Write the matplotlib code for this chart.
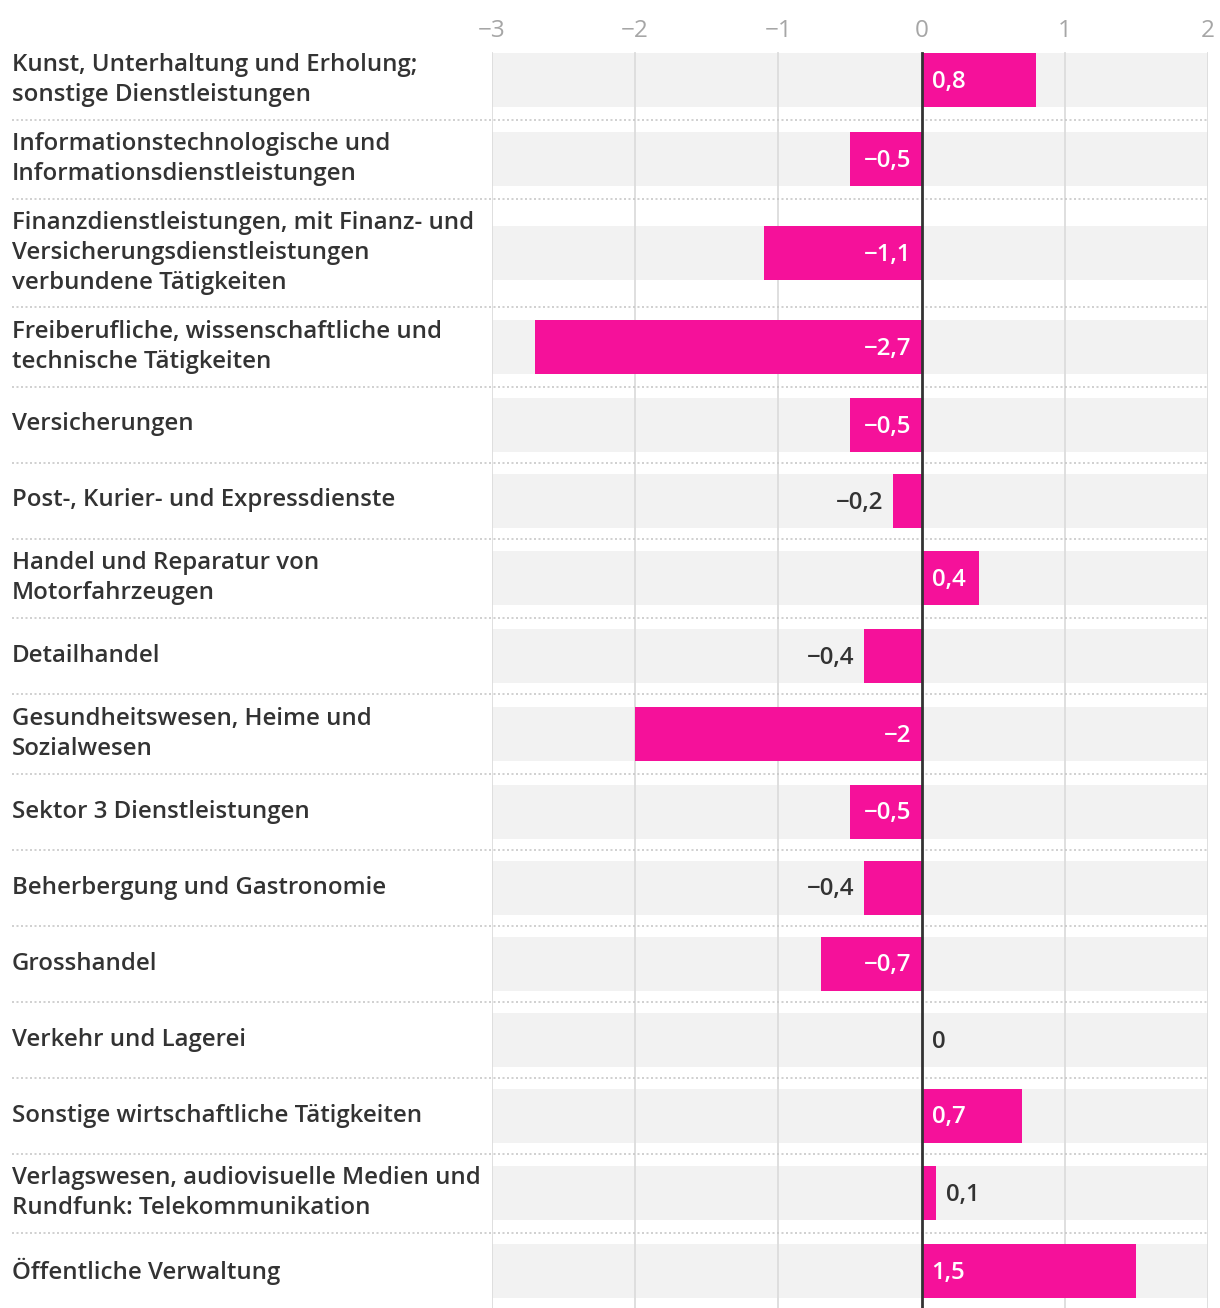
import matplotlib.pyplot as plt
import matplotlib.transforms as mtransforms

plt.rcParams['font.family'] = ['Open Sans', 'DejaVu Sans']
plt.rcParams['font.weight'] = 600

# categories top to bottom, labels already broken into lines like the original
labels = [
    "Kunst, Unterhaltung und Erholung;\nsonstige Dienstleistungen",
    "Informationstechnologische und\nInformationsdienstleistungen",
    "Finanzdienstleistungen, mit Finanz- und\nVersicherungsdienstleistungen\nverbundene Tätigkeiten",
    "Freiberufliche, wissenschaftliche und\ntechnische Tätigkeiten",
    "Versicherungen",
    "Post-, Kurier- und Expressdienste",
    "Handel und Reparatur von\nMotorfahrzeugen",
    "Detailhandel",
    "Gesundheitswesen, Heime und\nSozialwesen",
    "Sektor 3 Dienstleistungen",
    "Beherbergung und Gastronomie",
    "Grosshandel",
    "Verkehr und Lagerei",
    "Sonstige wirtschaftliche Tätigkeiten",
    "Verlagswesen, audiovisuelle Medien und\nRundfunk: Telekommunikation",
    "Öffentliche Verwaltung",
]
values = [0.8, -0.5, -1.1, -2.7, -0.5, -0.2, 0.4, -0.4, -2.0, -0.5, -0.4, -0.7, 0.0, 0.7, 0.1, 1.5]
ticks = [-3, -2, -1, 0, 1, 2]

PINK = "#f5119a"
TXT = "#333333"
FS = 17.3
W, H = 1220, 1308


def fmt(v):
    s = ("%.1f" % v).rstrip("0").rstrip(".") if v != 0 else "0"
    return s.replace("-", "\u2212").replace(".", ",")


# row heights in pixels depending on number of label lines
row_h = {1: 76, 2: 79.5, 3: 108}
heights = [row_h[l.count("\n") + 1] for l in labels]
edges = [0]
for h in heights:
    edges.append(edges[-1] + h)
centers = [(edges[i] + edges[i + 1]) / 2 for i in range(len(labels))]
total = edges[-1]

top_px = 40
fig = plt.figure(figsize=(W / 100, H / 100), dpi=100)
ax = fig.add_axes([492 / W, (H - top_px - total) / H, (1208 - 492) / W, total / H])
ax.set_xlim(-3, 2)
ax.set_ylim(total, 0)
for s in ax.spines.values():
    s.set_visible(False)
ax.set_yticks([])
ax.xaxis.tick_top()
ax.set_xticks(ticks)
ax.set_xticklabels([fmt(t) for t in ticks], color="#a6a6a6", fontsize=17.5, fontweight="normal")
ax.tick_params(axis="x", length=0, pad=-2)

bar_h = 54
# background rows
ax.barh(centers, [5] * len(labels), left=-3, height=bar_h, color="#f2f2f2", zorder=0)
# grid
for t in ticks:
    if t != 0:
        ax.plot([t, t], [centers[0] - bar_h / 2, total], color="#dcdcdc", lw=1.3, zorder=1)
# separators
for e in edges[1:-1]:
    ax.axhline(e, xmin=(12 - 492) / 716, xmax=1.0, color="#c8c8c8", lw=1.2,
               linestyle=(0, (1.2, 1.5)), clip_on=False, zorder=1)

ax.barh(centers, values, height=bar_h, color=PINK, zorder=2)
ax.plot([0, 0], [centers[0] - bar_h / 2, total], color=TXT, lw=2, zorder=4)

# value labels: white inside the bar if it fits, dark outside otherwise
fig.canvas.draw()
renderer = fig.canvas.get_renderer()
px_per_unit = 716 / 5
for c, v in zip(centers, values):
    sign = 1 if v >= 0 else -1
    ha = "left" if sign > 0 else "right"
    t = ax.text(0, c, fmt(v), ha=ha, va="center", fontsize=FS, zorder=5)
    tw = t.get_window_extent(renderer).width
    inside = abs(v) * px_per_unit >= tw + 20
    x0 = 0 if inside else v
    t.set_x(x0)
    t.set_transform(mtransforms.offset_copy(ax.transData, fig=fig, x=sign * 10, y=-2, units="dots"))
    t.set_color("white" if inside else TXT)

# category labels on the left
trans = mtransforms.blended_transform_factory(fig.transFigure, ax.transData)
for c, lab in zip(centers, labels):
    ax.text(12 / W, c, lab, transform=trans, ha="left", va="center", color=TXT,
            fontsize=FS, linespacing=1.32, clip_on=False)

fig.savefig("out.png", dpi=100)
